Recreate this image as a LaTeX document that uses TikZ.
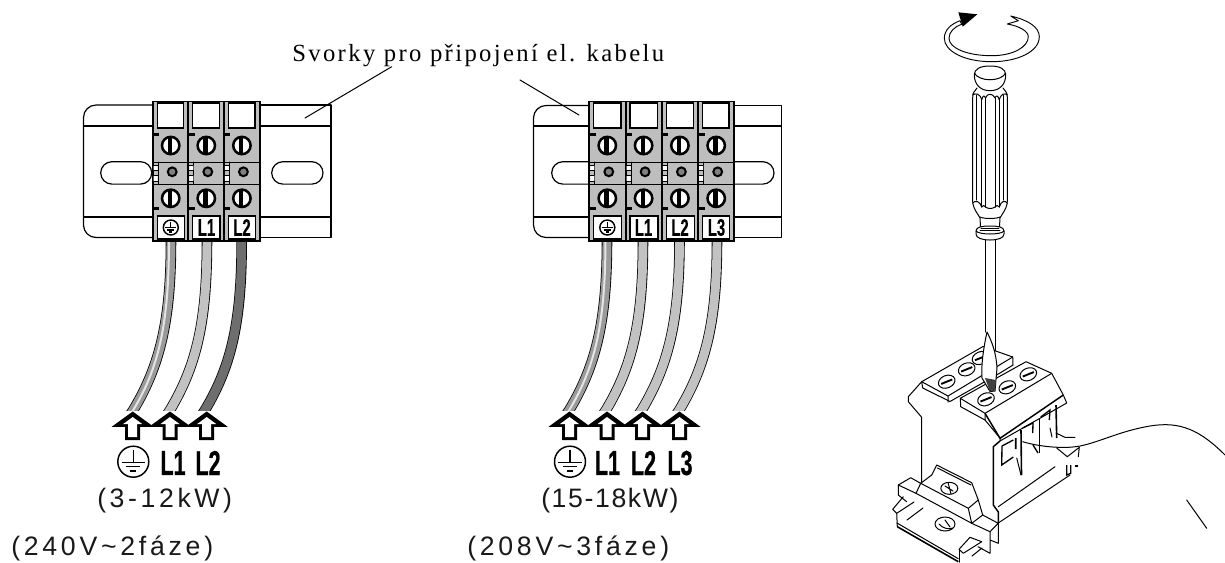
\documentclass[tikz,border=0pt]{standalone}
\usepackage{fontspec}
\setmainfont{Liberation Serif}
\newfontfamily\trk[LetterSpace=13.5]{Liberation Sans}
\newfontfamily\trkc[LetterSpace=6]{Liberation Sans}
\newfontfamily\trkb[LetterSpace=14]{Liberation Sans}
\newfontfamily\cnd[FakeStretch=0.62,BoldFeatures={FakeBold=0.6}]{Liberation Sans}
\newfontfamily\capt[LetterSpace=9.6]{Liberation Serif}
\definecolor{blockgray}{HTML}{BEBEBE}
\definecolor{wirelight}{HTML}{C2C2C2}
\definecolor{wiredark}{HTML}{6E6E6E}
\definecolor{wiremid}{HTML}{9A9A9A}
\definecolor{wirestripe}{HTML}{E4E4E4}
\definecolor{pin}{HTML}{808080}
\tikzset{
  ln/.style={line width=0.75pt,line join=round,line cap=round},
  rail/.style={line width=0.9pt,line join=round},
  thn/.style={line width=0.55pt,line join=round,line cap=round},
  thk/.style={line width=1.3pt,line join=round},
  smalllabel/.style={inner sep=0pt,font=\cnd\bfseries\fontsize{18}{18}\selectfont},
  biglabel/.style={inner sep=0pt,font=\cnd\bfseries\fontsize{26}{26}\selectfont},
  power/.style={inner sep=0pt,anchor=base west,font=\trk\fontsize{20}{20}\selectfont,text=black!90},
  powerc/.style={inner sep=0pt,anchor=base west,font=\trkc\fontsize{20}{20}\selectfont,text=black!90},
  powerb/.style={inner sep=0pt,anchor=base west,font=\trkb\fontsize{20}{20}\selectfont,text=black!90},
}
% ground symbol: x y radius
\newcommand{\gndmark}[3]{%
  \draw[line width=1.1pt] (#1,#2) circle[radius=#3];
  \draw[line width=0.85pt] (#1,#2-0.78*#3) -- (#1,#2+0.05*#3)
    (#1-0.75*#3,#2+0.05*#3) -- (#1+0.75*#3,#2+0.05*#3)
    (#1-0.45*#3,#2+0.33*#3) -- (#1+0.45*#3,#2+0.33*#3)
    (#1-0.2*#3,#2+0.6*#3) -- (#1+0.2*#3,#2+0.6*#3);
}
% slotted screw in a terminal
\newcommand{\tscrew}[2]{%
  \fill[white] (#1,#2) circle[radius=8.5];
  \fill[pin] (#1-3,#2-7.5) rectangle (#1-1,#2+7.5);
  \draw[line width=1.9pt] (#1,#2) circle[radius=8.7];
  \fill[black] (#1-1.2,#2-8.5) rectangle (#1+1.5,#2+8.5);
}
% terminal block: x0 width
\newcommand{\tblock}[2]{%
  \fill[blockgray] (#1,102) rectangle (#1+#2,241);
  \draw[thk] (#1,101.5) -- (#1+#2,101.5);
  \draw[thk] (#1,241) -- (#1+#2,241);
  \draw[line width=1.5pt] (#1,101) -- (#1,242);
  \draw[line width=1.5pt] (#1+#2,101) -- (#1+#2,242);
  \draw[line width=1pt,fill=white] (#1+4.5,103) rectangle (#1+#2-4.5,128);
  \draw[line width=1pt,fill=white] (#1+4.5,216) rectangle (#1+#2-4,239);
  \fill[black] (#1+1,132.5) rectangle (#1+6.5,135.5);
  \fill[black] (#1+1,207) rectangle (#1+6.5,210);
  \draw[ln] (#1,162) -- (#1+#2,162) (#1,184) -- (#1+#2,184) (#1+5.5,162) -- (#1+5.5,184);
  \fill[white] (#1+1,165) rectangle (#1+5,170) (#1+1,175) rectangle (#1+5,181);
  \draw[thn] (#1,165) -- (#1+5,165) (#1,170) -- (#1+5,170) (#1,175) -- (#1+5,175) (#1,181) -- (#1+5,181);
  \tscrew{#1+18}{145.5}\tscrew{#1+18}{198.3}
  \draw[line width=1.5pt,fill=pin] (#1+19.5,171.8) circle[radius=4.4];
}
% cable: top x, bottom x, fill colour
\newcommand{\cable}[3]{%
  \begin{scope}
    \clip (#1-60,242) rectangle (#1+20,410);
    \draw[line width=7.9pt,black] (#1,240) .. controls (#1,320) and (#2+27,365) .. (#2,410) -- ++(-6,9);
    \draw[line width=6.7pt,#3] (#1,238) .. controls (#1,320) and (#2+27,365) .. (#2,410) -- ++(-6,9);
  \end{scope}
}
\newcommand{\stripe}[2]{%
  \begin{scope}
    \clip (#1-60,242) rectangle (#1+20,410);
    \draw[line width=1.5pt,wirestripe] (#1,238) .. controls (#1,320) and (#2+27,365) .. (#2,410) -- ++(-6,9);
  \end{scope}
}
% hollow up arrow
\newcommand{\uparr}[1]{%
  \fill[black,line join=miter] (#1,411.5) -- (#1+21,426.8) -- (#1+7.5,426.8) -- (#1+7.5,440) -- (#1-7.5,440) -- (#1-7.5,426.8) -- (#1-21,426.8) -- cycle;
  \fill[white] (#1,417) -- (#1+9.5,424) -- (#1+4.5,424) -- (#1+4.5,437) -- (#1-4.5,437) -- (#1-4.5,424) -- (#1-9.5,424) -- cycle;
}
% terminal-top screw, isometric
\newcommand{\isoscrew}[2]{%
  \begin{scope}[shift={(#1,#2)},rotate=22]
    \draw[ln,fill=white] (0,0) ellipse[x radius=8.6,y radius=6.2];
    \draw[line width=1.4pt] (-6,0) -- (6,0);
  \end{scope}
}
\begin{document}
\begin{tikzpicture}[x=0.75pt,y=-0.75pt]
\useasboundingbox (0,0) rectangle (1225,562);
\fill[white] (0,0) rectangle (1225,562);

%%% left DIN rail
\draw[rail,rounded corners=9.4pt] (153,105) -- (83.5,105) -- (83.5,237.5) -- (153,237.5);
\draw[rail] (83.5,126) -- (153,126) (83.5,217) -- (153,217);
\draw[rail] (259,105) -- (331,105) -- (331,237.5) -- (259,237.5) (259,126) -- (331,126) (259,217) -- (331,217);
\draw[rail,rounded corners=8.4pt] (100.7,161.7) rectangle (151.7,184.1);
\draw[rail,rounded corners=8.4pt] (271.7,161.7) rectangle (323,184.1);
\tblock{152.7}{35.6}\tblock{188.3}{35.6}\tblock{223.9}{35.6}
\gndmark{170.8}{227.5}{7.5}
\node[smalllabel] (a1) at (206.5,227.5) {L1};
\node[smalllabel] (a2) at (242,227.5) {L2};

%%% right DIN rail
\draw[rail,rounded corners=9.4pt] (589,105.5) -- (533.5,105.5) -- (533.5,237.5) -- (589,237.5);
\draw[rail] (533.5,126) -- (589,126) (533.5,217) -- (589,217);
\draw[rail] (733,105.5) -- (781.7,105.5) -- (781.7,237.5) -- (733,237.5) (733,126) -- (781.7,126) (733,217) -- (781.7,217);
\draw[rail,rounded corners=8.4pt] (589,161.7) -- (551.7,161.7) -- (551.7,184.1) -- (589,184.1);
\draw[rail,rounded corners=8.4pt] (733,161.7) -- (774,161.7) -- (774,184.1) -- (733,184.1);
\tblock{589.3}{36.3}\tblock{625.6}{36.3}\tblock{661.9}{36.3}\tblock{698.2}{35.3}
\gndmark{607.3}{227.5}{7.5}
\node[smalllabel] (b1) at (643.5,227.5) {L1};
\node[smalllabel] (b2) at (680,227.5) {L2};
\node[smalllabel] (b3) at (716.5,227.5) {L3};

%%% caption and leaders
\node[inner sep=0pt,anchor=base west,font=\capt\fontsize{18.5}{18.5}\selectfont] (cap) at (292,61) {Svorky pro připojení el. kabelu};
\coordinate (lead1a) at (391.7,66.7);
\coordinate (lead1b) at (305,118);
\coordinate (lead2a) at (520,80);
\coordinate (lead2b) at (579,115);
\draw[ln] (lead1a) -- (lead1b);
\draw[ln] (lead2a) -- (lead2b);

%%% cables, left group
\cable{171}{133.3}{wiremid}\stripe{169}{133.3}
\cable{207}{170}{wirelight}
\cable{241.7}{205}{wiredark}
\uparr{132.7}\uparr{170}\uparr{206.7}
\gndmark{133.3}{461.7}{15.5}
\node[biglabel] (c1) at (173,463) {L1};
\node[biglabel] (c2) at (208,463) {L2};

%%% cables, right group
\cable{607}{569.3}{wiremid}\stripe{605.5}{569.3}
\cable{643}{606}{wirelight}
\cable{679.5}{641.7}{wirelight}
\cable{717}{679.3}{wirelight}
\uparr{569.5}\uparr{607}\uparr{642.5}\uparr{679.5}
\gndmark{570}{461.7}{15.5}
\node[biglabel] (d1) at (607.5,463) {L1};
\node[biglabel] (d2) at (643.5,463) {L2};
\node[biglabel] (d3) at (680,463) {L3};

%%% power labels
\node[power] (p1) at (97,507) {(3-12kW)};
\node[powerc] (p2) at (541,507) {(15-18kW)};
\node[powerb] (p3) at (11,555) {(240V\symbol{126}2fáze)};
\node[powerb] (p4) at (467,555) {(208V\symbol{126}3fáze)};

%%% rotation arrow
\draw[thn,line width=0.7pt,fill=white] (1010.7,16) .. controls (1028,20) and (1039.3,27) .. (1039.3,36.7)
  .. controls (1039.3,52) and (1017,61.7) .. (991.7,61.7)
  .. controls (964,61.7) and (944.3,51) .. (944.3,38.3)
  .. controls (944.3,30) and (951,24) .. (960,20.7)
  -- (961.7,24.3)
  .. controls (954,27) and (949,32) .. (949,38.3)
  .. controls (949,48) and (967,55.7) .. (991.7,55.7)
  .. controls (1013,55.7) and (1028.3,47) .. (1028.3,36.7)
  .. controls (1028.3,31) and (1019,26) .. (1007.3,24)
  -- (1018.3,20.7) -- cycle;
\fill[black] (958.3,12.3) -- (977.3,14.3) -- (962.7,26.7) -- cycle;

%%% screwdriver
\draw[ln] (974.3,75) .. controls (974.3,69) and (980,66) .. (990,66) .. controls (1000,66) and (1005.7,69) .. (1005.7,75)
  .. controls (1005.7,84) and (1000,90.7) .. (990,90.7) .. controls (980,90.7) and (974.3,84) .. (974.3,75) -- cycle;
\draw[ln] (974.3,73) .. controls (979,82) and (1001,82) .. (1005.7,73);
% handle
\draw[ln] (977,88) -- (974,92) .. controls (972.7,93) and (972.7,95) .. (972.7,98) -- (972.7,202);
\draw[ln] (1003,88) -- (1006,92) .. controls (1007.3,93) and (1007.3,95) .. (1007.3,98) -- (1007.3,202);
\draw[ln] (976.5,95) -- (976.5,200) (981.7,100) -- (981.7,207) (985.5,98) -- (985.5,207);
\draw[ln] (995,98) -- (995,207) (999.3,100) -- (999.3,207) (1003.5,95) -- (1003.5,200);
\draw[line width=1.1pt] (1003.5,95) -- (1003.5,200) (976.5,95) -- (976.5,200);
\draw[ln] (972.7,95) .. controls (975,93) and (980,93) .. (981.7,100) .. controls (983,95) and (984,95) .. (985.5,98)
  .. controls (987,93) and (993,93) .. (995,98) .. controls (996,95) and (998,95) .. (999.3,100) .. controls (1001,93) and (1005,93) .. (1007.3,95);
\draw[ln] (972.7,203) .. controls (975,200) and (980,201) .. (981.7,207) .. controls (983,205) and (984,205) .. (985.5,207)
  .. controls (988,209) and (992,209) .. (995,207) .. controls (996,205) and (998,205) .. (999.3,207) .. controls (1001,201) and (1005,200) .. (1007.3,203);
\draw[ln] (972.7,203) .. controls (974,210) and (978,214) .. (980,218) -- (980.5,227);
\draw[ln] (1007.3,203) .. controls (1006,210) and (1002,214) .. (1000,218) -- (999.5,227);
\draw[ln] (980,217) .. controls (984,219) and (996,219) .. (1000,217);
\draw[ln,fill=white] (976,231) .. controls (976,227) and (982,226) .. (990,226) .. controls (998,226) and (1004,227) .. (1004,231)
  -- (1004,234) .. controls (1004,238) and (998,240) .. (990,240) .. controls (982,240) and (976,238) .. (976,234) -- cycle;
\draw[ln] (976,231) .. controls (979,235) and (1001,235) .. (1004,231);
\draw[thn] (981,228) -- (999,228) (980,230) -- (1000,230);
\draw[ln] (985,240) -- (985,332) (995,240) -- (995,352);

%%% terminal block body, right view
% side outline
\draw[ln] (921.7,381.7) -- (908.3,396.7) -- (908.3,401.7) -- (921.7,417.3) -- (921.7,483.3);
% top left block
\draw[ln,fill=white] (921.7,381.7) -- (983,346.5) -- (1012.7,357) -- (1013,365) -- (1000,373) -- (950,401.5) -- (922.7,388) -- cycle;
\draw[ln] (921.7,381.7) -- (948,396) -- (1012.7,357) (948,396) -- (948,402);
% top right block
\draw[ln,fill=white] (960.3,398.3) -- (1026,361.7) -- (1051.7,373.3) -- (1063.3,395) -- (1066.7,403) -- (1000,441) -- (1000,438) -- (985,420) -- (960.7,406.7) -- cycle;
\draw[ln] (960.3,398.3) -- (985,413.3) -- (1051.7,373.3) (985,413.3) -- (985,420);
\draw[line width=1.1pt] (985,413.3) -- (1000,438.3) -- (1063.3,395);
\isoscrew{946.7}{381.7}\isoscrew{966.7}{369.3}\isoscrew{980.5}{358}
\isoscrew{986}{399.3}\isoscrew{1007.3}{387.3}\isoscrew{1028.3}{374.3}
% screwdriver blade over block
\draw[ln,fill=white] (987,332) .. controls (983,350) and (981,368) .. (982,378) -- (990,391.5) -- (995,391) -- (997,368) .. controls (996,352) and (992,342) .. (987,332) -- cycle;
\fill[black!75] (985,378) -- (996,380) -- (995,391) -- (990,391.5) -- cycle;
% front face
\draw[line width=1.1pt] (1000,441) -- (993.3,446.7) -- (993.3,505) -- (998.3,512) -- (998.3,523);
\draw[ln] (998.3,523) -- (1070,475) (998.3,506.7) -- (1055,466.7);
\draw[line width=1.0pt] (1013.3,440) -- (1002,446) -- (1001.7,465) -- (1013.3,457);
\draw[line width=1.2pt] (1015.7,438) -- (1015.7,449) (1021,430) -- (1021.5,475);
\draw[ln] (1016.7,458) -- (1021,475);
\draw[line width=1pt] (1022.7,428) -- (1033,423) -- (1032.7,433) (1033,445) -- (1038,453);
\draw[line width=1.2pt] (1039.3,418) -- (1039.3,453);
\draw[line width=1pt] (1040.7,417) -- (1050,410) -- (1049.3,420);
\draw[line width=1.2pt] (1056,405) -- (1056.7,438);
\draw[ln] (1050,428) -- (1052,437);
\draw[ln] (1056,433) -- (1065,437.3) -- (1075,437.3);
\draw[ln] (1056.7,448) -- (1067.3,456.7) -- (1079.3,447.3) -- (1078.3,456.7);
\draw[line width=1pt] (1066.7,465) -- (1066.7,475) -- (1070.7,473.3) -- (1070.7,465);
\fill[black] (1075,465) rectangle (1078,467);

% lead/hand curve and stroke
\coordinate (hand1) at (1022.7,441.7);
\coordinate (hand2) at (1225,455);
\draw[ln] (hand1) .. controls (1040,447) and (1065,449) .. (1080,446)
  .. controls (1100,442) and (1120,431) .. (1150,426)
  .. controls (1180,421) and (1200,430) .. (hand2);
\coordinate (mark1) at (1186.7,500);
\coordinate (mark2) at (1206.7,528.3);
\draw[ln] (mark1) -- (mark2);

%%% DIN clip at the base
\draw[ln,fill=white] (898.3,485) -- (910.7,477.7) -- (920.7,483.3) -- (916,493.3) -- cycle;
\draw[ln] (920.7,483.3) -- (931.7,475) -- (936.7,465) -- (971.7,482.7) -- (978.3,500) -- (968.3,508.3) -- cycle;
\draw[ln] (937.5,468) -- (971,485);
\draw[ln] (916,493.3) -- (971.7,523.3) -- (968.3,508.3);
\draw[ln] (978.3,500) -- (982.7,515) -- (971.7,523.3) (982.7,515) -- (998.3,523.3) -- (990,531.7) -- (971.7,523.3);
\draw[ln] (998.3,523.3) -- (998.3,543.3) -- (990,540) (990,531.7) -- (990,553.3) -- (978,546.7);
\draw[ln] (898.3,485) -- (898.3,495) -- (906.7,501.7) (903.3,496.7) -- (892.7,509.3) -- (896.7,513.3) -- (914,502);
\draw[ln] (896.7,513.3) -- (897.3,526.7) (923,508) -- (907,520);
\draw[line width=1.2pt] (897.3,526.7) -- (958.3,561.7);
\draw[ln] (897,523) -- (958.3,558.7);
\draw[ln] (970,537.3) -- (959,549.3) -- (963.3,553.3) -- (981.7,541.7) -- (970,537.3);
\draw[ln] (959,549.3) -- (959,562);
\draw[ln] (982,548) -- (972,556);
\draw[ln,fill=white] (949.3,488.3) ellipse[x radius=8.5,y radius=6];
\draw[ln] (945,486) -- (953,491) (948,482.5) -- (951,494);
\draw[ln,fill=white] (945,524) ellipse[x radius=10,y radius=7];
\draw[ln] (939,524) .. controls (942,528) and (949,530) .. (953,528);
\draw[ln] (945,520) -- (950,527);
\end{tikzpicture}
\end{document}
